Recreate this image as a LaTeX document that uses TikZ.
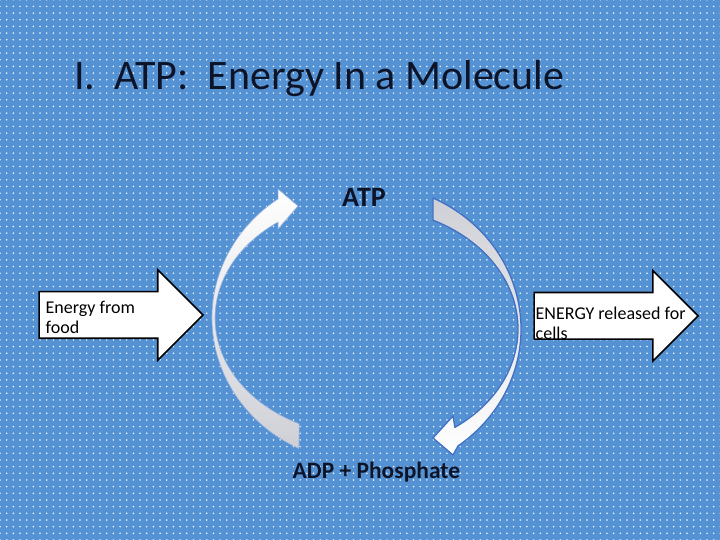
\documentclass[tikz,border=0pt]{standalone}
\usepackage{fontspec}
\setmainfont{Carlito}
\usetikzlibrary{shapes.arrows, patterns.meta, calc}

\definecolor{slideblue}{RGB}{84,146,212}
\definecolor{dotwhite}{RGB}{246,250,255}
\definecolor{arcgray}{RGB}{206,208,214}
\definecolor{arcline}{RGB}{66,112,194}
\definecolor{titleink}{RGB}{14,20,40}

\begin{document}
\begin{tikzpicture}[
  x=1pt, y=1pt,
  blockarrow/.style={draw=black, line width=1.6pt, fill=white, single arrow, single arrow head extend=22pt,
    inner xsep=0pt, inner ysep=22.5pt, minimum height=164pt, anchor=tail},
  cycarrow/.style={draw=arcline, line width=1.3pt, line join=round},
  titletext/.style={font=\fontsize{42}{50}\selectfont, text=titleink, inner sep=0pt, anchor=base west},
  cyclabel/.style={font=\bfseries\fontsize{28}{33}\selectfont, text=titleink, inner sep=0pt, anchor=base},
  arrowtext/.style={font=\fontsize{18}{20}\selectfont, text=black, inner sep=0pt, align=left, anchor=base west}
]

% Slide background
\fill[slideblue] (0,0) rectangle (720,540);
\fill[pattern={Dots[distance=6.67pt, radius=0.85pt]}, pattern color=dotwhite] (0,0) rectangle (720,540);

% Title
\node[titletext] (title) at (74,450) {I.\ \ ATP:\ \ Energy In a Molecule};

% Cycle centres
\coordinate (cL) at (366,222);
\coordinate (cR) at (367,211);

% Left arc: ADP up to ATP
\draw[cycarrow, draw=arcline!55!white, line width=0.6pt, top color=white, middle color=white, bottom color=arcgray]
  ($(cL)+(244.2:154pt and 145pt)$) arc[start angle=244.2, end angle=124.8, x radius=154pt, y radius=145pt]
  -- (278,351) -- (298,334) -- (278,311)
  -- ($(cL)+(125.6:151pt and 118pt)$) arc[start angle=125.6, end angle=243.7, x radius=151pt, y radius=118pt]
  -- cycle;

% Right arc: ATP down to ADP
\draw[cycarrow, top color=arcgray, middle color=arcgray!70!white, bottom color=white]
  ($(cR)+(64.6:154pt and 145pt)$) arc[start angle=64.6, end angle=-53.8, x radius=154pt, y radius=145pt]
  -- (453,85) -- (433,102) -- (453,124)
  -- ($(cR)+(-54.4:151pt and 121pt)$) arc[start angle=-54.4, end angle=64.1, x radius=151pt, y radius=121pt]
  -- cycle;

% Labels of the cycle
\node[cyclabel] (atp) at (364,333.3) {ATP};
\node[cyclabel, font=\bfseries\fontsize{23.5}{28}\selectfont] (adp) at (376.4,61.7) {ADP + Phosphate};

% Energy in and out
\node[blockarrow] (foodArrow) at (38.3,225) {};
\node[blockarrow] (cellArrow) at (533.3,224.2) {};
\node[arrowtext] (foodText) at (45.5,206.7) {Energy from\\food};
\node[arrowtext] (cellText) at (535.5,200.5) {ENERGY released for\\cells};

\end{tikzpicture}
\end{document}
